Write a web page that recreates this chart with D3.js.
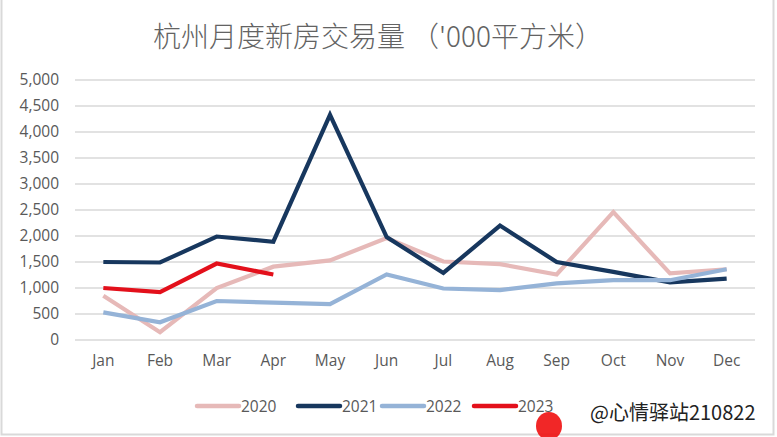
<!DOCTYPE html>
<html><head><meta charset="utf-8">
<script src="https://cdn.jsdelivr.net/npm/d3@7"></script>
<style>
html,body{margin:0;padding:0;background:#fff;}
svg{display:block;}
</style></head>
<body>
<svg id="chart" width="777" height="437"></svg>
<script>
const months = ["Jan","Feb","Mar","Apr","May","Jun","Jul","Aug","Sep","Oct","Nov","Dec"];
const yTicks = [0,500,1000,1500,2000,2500,3000,3500,4000,4500,5000];
const s2020 = [850,150,1000,1410,1530,1960,1510,1460,1260,2460,1280,1360];
const s2021 = [1500,1490,1990,1890,4330,1980,1290,2200,1500,1310,1110,1180];
const s2022 = [530,340,750,720,690,1260,990,960,1090,1150,1150,1360];
const s2023 = [1000,920,1470,1260];
const seriesNames = ["2020","2021","2022","2023"];
const seriesColors = ["#E6B9B8","#17375E","#95B3D7","#E3101B"];
const title = "杭州月度新房交易量 （'000平方米）";

const svg = d3.select("#chart");
const W = 777, H = 437;
svg.append("rect").attr("x",1.5).attr("y",-2).attr("width",W-5).attr("height",H-0.5)
  .attr("fill","#fff").attr("stroke","#D9D9D9").attr("stroke-width",2);

const x = d3.scaleBand().domain(months).range([75,755]);
const y = d3.scaleLinear().domain([0,5000]).range([340,80]);

svg.append("g").selectAll("line").data(yTicks).join("line")
  .attr("x1",75).attr("x2",755)
  .attr("y1",d=>y(d)).attr("y2",d=>y(d))
  .attr("stroke","#D9D9D9").attr("stroke-width",1.5);

const yAxis = d3.axisLeft(y).tickValues(yTicks).tickFormat(d3.format(",")).tickSize(0).tickPadding(0);
const gy = svg.append("g").attr("transform","translate(59,0)").call(yAxis);
gy.select(".domain").remove();
gy.selectAll("text").attr("font-family","'Open Sans', Lato, sans-serif").attr("font-size",15.5).attr("fill","#595959");

const xAxis = d3.axisBottom(x).tickSize(0).tickPadding(0);
const gx = svg.append("g").attr("transform","translate(0,355)").call(xAxis);
gx.select(".domain").remove();
gx.selectAll("text").attr("font-family","'Open Sans', Lato, sans-serif").attr("font-size",15.5).attr("fill","#595959");

const allSeries = [s2020,s2021,s2022,s2023];
const line = d3.line().x((d,i)=>x(months[i])+x.bandwidth()/2).y(d=>y(d));
allSeries.forEach((s,k)=>{
  svg.append("path").datum(s).attr("d",line)
    .attr("fill","none").attr("stroke",seriesColors[k])
    .attr("stroke-width",4.2).attr("stroke-linejoin","miter").attr("stroke-linecap","butt");
});

svg.append("text").attr("x",378).attr("y",47).attr("text-anchor","middle")
  .attr("font-family","'Noto Sans CJK SC', sans-serif").attr("font-weight",300)
  .attr("font-size",28).attr("fill","#636363").text(title);

// watermark smudge (behind legend)
svg.append("ellipse").attr("cx",549).attr("cy",426).attr("rx",13).attr("ry",14).attr("fill","#F01010").attr("opacity",0.9);

const legX = [197,298,382,474];
const lg = svg.append("g");
seriesNames.forEach((n,k)=>{
  lg.append("line").attr("x1",legX[k]).attr("x2",legX[k]+42).attr("y1",406).attr("y2",406)
    .attr("stroke",seriesColors[k]).attr("stroke-width",4.5).attr("stroke-linecap","round");
  lg.append("text").attr("x",legX[k]+44).attr("y",412)
    .attr("font-family","'Open Sans', Lato, sans-serif").attr("font-size",15.5).attr("fill","#595959").text(n);
});

svg.append("text").attr("x",590).attr("y",420).attr("font-family","'Noto Sans CJK SC', sans-serif")
  .attr("font-size",20).attr("fill","#222").attr("stroke","#fff").attr("stroke-width",0.6).attr("paint-order","stroke")
  .text("@心情驿站210822");
</script>
</body></html>
